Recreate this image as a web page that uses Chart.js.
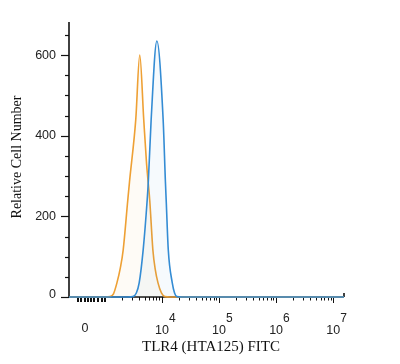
<!DOCTYPE html>
<html>
<head>
<meta charset="utf-8">
<script src="https://cdn.jsdelivr.net/npm/chart.js@4.4.0/dist/chart.umd.min.js"></script>
<style>
  html, body { margin: 0; padding: 0; background: #fff; }
  #wrap { width: 400px; height: 364px; }
</style>
</head>
<body>
<div id="wrap"><canvas id="myChart" width="400" height="364"></canvas></div>
<script>
// x values are in decades of fluorescence (4 means 10^4), y is cell count
const isotypeX = [2.37, 3.00, 3.09, 3.15, 3.21, 3.27, 3.32, 3.40, 3.43, 3.54, 3.61, 3.68, 3.73, 3.785, 3.84, 3.88, 3.93, 3.99, 4.05, 4.15, 7.19];
const isotypeY = [0, 0, 1, 8, 35, 72, 117, 240, 285, 440, 600, 440, 330, 240, 117, 70, 35, 10, 1, 0, 0];

const tlr4X = [2.37, 3.40, 3.49, 3.55, 3.60, 3.67, 3.74, 3.76, 3.81, 3.91, 4.02, 4.06, 4.075, 4.11, 4.18, 4.22, 4.26, 4.35, 7.19];
const tlr4Y = [0, 0, 1, 10, 35, 117, 240, 285, 440, 635, 440, 285, 235, 117, 35, 10, 1, 0, 0];

// axis ticks
const yTickLabels = [0, 200, 400, 600];
const yMinorStep = 50;
const yMinorMax = 650;
const xDecades = [4, 5, 6, 7];
const xZeroPos = 2.65;
const xLowTicks = [2.53, 2.58, 2.65, 2.70, 2.75, 2.81, 2.88, 2.95, 3.00];

const xTitle = 'TLR4 (HTA125) FITC';
const yTitle = 'Relative Cell Number';

function toPoints(xs, ys) {
    return xs.map((x, i) => ({ x: x, y: ys[i] }));
}

// Draws the axes, tick marks and labels using the chart's scales
const axisPlugin = {
    id: 'flowAxes',
    beforeDatasetsDraw(chart) {
        const ctx = chart.ctx;
        const area = chart.chartArea;
        const xs = chart.scales.x;
        const ys = chart.scales.y;
        ctx.save();
        ctx.strokeStyle = '#111';
        ctx.fillStyle = '#222';
        ctx.lineWidth = 1.6;

        // y axis line
        ctx.beginPath();
        ctx.moveTo(area.left, area.top);
        ctx.lineTo(area.left, area.bottom);
        ctx.stroke();

        // y ticks
        ctx.lineWidth = 1.2;
        for (let v = 0; v <= yMinorMax; v += yMinorStep) {
            const py = Math.round(ys.getPixelForValue(v)) + 0.5;
            const len = (v % 200 === 0) ? 8 : 4;
            ctx.beginPath();
            ctx.moveTo(area.left - len, py);
            ctx.lineTo(area.left, py);
            ctx.stroke();
        }
        ctx.font = '12.5px "Liberation Sans", Arial, sans-serif';
        ctx.textAlign = 'right';
        ctx.textBaseline = 'middle';
        yTickLabels.forEach(v => {
            const py = ys.getPixelForValue(v);
            ctx.fillText(String(v), area.left - 13, py - (v === 0 ? 2 : 0));
        });

        // x axis line
        ctx.lineWidth = 1.6;
        ctx.beginPath();
        ctx.moveTo(area.left, area.bottom);
        ctx.lineTo(area.right, area.bottom);
        ctx.stroke();
        // small end mark
        ctx.beginPath();
        ctx.moveTo(area.right, area.bottom - 4);
        ctx.lineTo(area.right, area.bottom);
        ctx.stroke();

        // x ticks: decades, log minors, and the crowded region around zero
        ctx.lineWidth = 1;
        xDecades.forEach(d => {
            const px = Math.round(xs.getPixelForValue(d)) + 0.5;
            ctx.beginPath();
            ctx.moveTo(px, area.bottom);
            ctx.lineTo(px, area.bottom + 6);
            ctx.stroke();
        });
        for (let n = 3; n <= 7; n++) {
            for (let k = 2; k <= 9; k++) {
                const pos = n + Math.log10(k);
                if (pos > xs.max) continue;
                const px = Math.round(xs.getPixelForValue(pos)) + 0.5;
                ctx.beginPath();
                ctx.moveTo(px, area.bottom);
                ctx.lineTo(px, area.bottom + 3.5);
                ctx.stroke();
            }
        }
        ctx.lineWidth = 2;
        xLowTicks.forEach(pos => {
            const px = Math.round(xs.getPixelForValue(pos));
            ctx.beginPath();
            ctx.moveTo(px, area.bottom);
            ctx.lineTo(px, area.bottom + 5);
            ctx.stroke();
        });

        // x labels
        ctx.textBaseline = 'alphabetic';
        ctx.textAlign = 'center';
        ctx.font = '12.5px "Liberation Sans", Arial, sans-serif';
        ctx.fillText('0', xs.getPixelForValue(xZeroPos), 332);
        xDecades.forEach(d => {
            const px = xs.getPixelForValue(d);
            ctx.font = '12.5px "Liberation Sans", Arial, sans-serif';
            ctx.textAlign = 'center';
            ctx.fillText('10', px, 334);
            ctx.font = '12px "Liberation Sans", Arial, sans-serif';
            ctx.textAlign = 'left';
            ctx.fillText(String(d), px + 7, 322);
        });

        // axis titles
        ctx.fillStyle = '#111';
        ctx.textAlign = 'center';
        ctx.textBaseline = 'middle';
        ctx.font = '15px "Liberation Serif", "Times New Roman", serif';
        ctx.fillText(xTitle, 211, 347);
        ctx.save();
        ctx.translate(17, 157);
        ctx.rotate(-Math.PI / 2);
        ctx.font = '14px "Liberation Serif", "Times New Roman", serif';
        ctx.fillText(yTitle, 0, 0);
        ctx.restore();

        ctx.restore();
    }
};

const ctx = document.getElementById('myChart').getContext('2d');
new Chart(ctx, {
    type: 'line',
    data: {
        datasets: [{
            label: 'TLR4 (HTA125) FITC',
            data: toPoints(tlr4X, tlr4Y),
            borderColor: 'rgb(52, 140, 212)',
            backgroundColor: 'rgba(52, 140, 212, 0.045)',
            borderWidth: 1.6,
            fill: 'origin',
            pointRadius: 0,
            cubicInterpolationMode: 'monotone',
            clip: 6
        }, {
            label: 'Isotype',
            data: toPoints(isotypeX, isotypeY),
            borderColor: 'rgb(238, 160, 52)',
            backgroundColor: 'rgba(238, 160, 52, 0.045)',
            borderWidth: 1.6,
            fill: 'origin',
            pointRadius: 0,
            cubicInterpolationMode: 'monotone',
            clip: 6
        }]
    },
    options: {
        responsive: false,
        animation: false,
        devicePixelRatio: 1,
        layout: { padding: { left: 69, right: 56, top: 22, bottom: 67 } },
        plugins: {
            legend: { display: false },
            tooltip: { enabled: false }
        },
        scales: {
            x: { type: 'linear', min: 2.37, max: 7.19, display: false },
            y: { type: 'linear', min: 0, max: 682, display: false }
        }
    },
    plugins: [axisPlugin]
});
</script>
</body>
</html>
